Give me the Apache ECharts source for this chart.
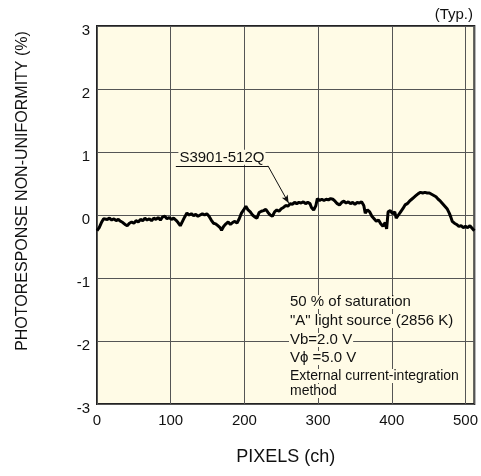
<!DOCTYPE html>
<html>
<head>
<meta charset="utf-8">
<script src="https://cdn.jsdelivr.net/npm/echarts@6/dist/echarts.min.js"></script>
<style>html,body{margin:0;padding:0;background:#fff}#c{width:481px;height:476px}</style>
</head>
<body>
<div id="c"></div>
<script>
var pixels = [0,3,6,9,11,14,17,20,23,26,29,32,35,38,41,44,47,50,53,56,59,62,65,68,71,74,77,80,83,86,89,92,95,98,101,104,107,110,113,116,119,122,125,128,131,134,137,140,143,146,149,152,155,158,161,164,167,169,172,175,178,181,184,187,190,193,196,199,202,205,208,211,214,217,220,223,226,229,232,235,238,241,244,247,250,253,256,259,262,265,268,271,274,277,280,283,286,289,291,294,297,299,302,305,308,311,314,317,320,323,326,329,332,335,338,341,344,347,350,353,356,359,362,364,367,370,373,376,379,382,385,388,391,393,395,398,401,404,406,409,412,415,418,421,424,427,430,433,436,439,442,445,448,451,454,457,460,463,466,469,472,475,478,480,482,485,488,491,494,497,500,503,506,509,512];
var nonUniformity = [-0.25,-0.2,-0.12,-0.06,-0.04,-0.07,-0.05,-0.08,-0.06,-0.09,-0.07,-0.1,-0.12,-0.15,-0.17,-0.13,-0.11,-0.13,-0.09,-0.11,-0.07,-0.09,-0.05,-0.08,-0.06,-0.09,-0.05,-0.07,-0.04,-0.08,-0.03,-0.02,-0.06,-0.04,-0.07,-0.05,-0.08,-0.12,-0.17,-0.1,-0.03,0.03,0.0,0.02,-0.01,0.01,-0.02,0.0,0.02,0.0,0.02,-0.02,-0.08,-0.13,-0.14,-0.17,-0.2,-0.24,-0.18,-0.14,-0.11,-0.15,-0.12,-0.1,-0.13,-0.06,0.03,0.08,0.14,0.08,0.05,0.0,-0.03,-0.05,0.04,0.06,0.07,0.09,0.04,0.0,-0.02,0.05,0.08,0.06,0.1,0.12,0.15,0.14,0.18,0.17,0.2,0.18,0.2,0.19,0.21,0.18,0.2,0.18,0.12,0.08,0.15,0.26,0.23,0.25,0.23,0.25,0.24,0.26,0.25,0.22,0.18,0.16,0.2,0.22,0.19,0.21,0.18,0.2,0.17,0.2,0.19,0.21,0.15,0.03,0.08,0.05,-0.02,-0.06,-0.1,-0.08,-0.14,-0.18,-0.12,-0.22,0.05,0.07,0.02,0.05,-0.05,0.0,0.05,0.1,0.16,0.18,0.22,0.25,0.28,0.31,0.34,0.36,0.35,0.36,0.35,0.35,0.33,0.31,0.29,0.25,0.22,0.18,0.14,0.1,0.03,-0.03,-0.1,-0.13,-0.15,-0.18,-0.17,-0.2,-0.18,-0.2,-0.17,-0.21,-0.25];
var xTicks = [0,100,200,300,400,500];
var yTicks = [-3,-2,-1,0,1,2,3];
var seriesName = 'S3901-512Q';
var leaderPoints = [[107,0.78],[232,0.78],[260,0.19]];
var conditions = ['50 % of saturation','"A" light source (2856 K)','Vb=2.0 V','V\u03d5 =5.0 V','External current-integration','method'];

var FONT = '"Liberation Sans", Arial, Helvetica, sans-serif';
var BG = '#FFFBE6';
var chart = echarts.init(document.getElementById('c'));
var data = pixels.map(function(p,i){return [p, nonUniformity[i]];});

var ctx = document.createElement('canvas').getContext('2d');
var condGraphics = [];
var condY = [302,321,340,358,376,391];
conditions.forEach(function(t,i){
  var f = (i>=4?'14px ':'15px ')+FONT;
  ctx.font = f;
  var w = ctx.measureText(t).width;
  condGraphics.push({
    type:'rect', shape:{x:289, y:condY[i]-7, width:w+2, height:14}, z:99,
    style:{fill:BG}
  });
  condGraphics.push({
    type:'text', x:290, y:condY[i], z:100,
    style:{text:t, fill:'#111', font:f, textVerticalAlign:'middle'}
  });
});
condGraphics.push({type:'text', right:8, top:7, style:{text:'(Typ.)', fill:'#111', font:'15px '+FONT}});
condGraphics.push({type:'text', x:23, y:191, rotation:Math.PI/2, style:{text:'PHOTORESPONSE NON-UNIFORMITY (%)', fill:'#111', font:'16px '+FONT, textAlign:'center', textVerticalAlign:'middle'}});

chart.setOption({
  animation:false,
  backgroundColor:'#fff',
  grid:{left:97, top:26, right:6, bottom:72, show:true, backgroundColor:BG, borderColor:'#222', borderWidth:2},
  xAxis:{
    type:'value', min:0, max:512, interval:100,
    name:'PIXELS (ch)', nameLocation:'middle', nameGap:44,
    nameTextStyle:{fontFamily:FONT, fontSize:18, color:'#111'},
    axisLine:{show:false},
    axisTick:{show:false},
    axisLabel:{fontFamily:FONT, fontSize:15, color:'#111', margin:9,
      customValues:xTicks},
    splitLine:{show:true, lineStyle:{color:'#555', width:1}}
  },
  yAxis:{
    type:'value', min:-3, max:3, interval:1,
    axisLine:{show:false},
    axisTick:{show:false},
    axisLabel:{color:'#111', margin:7, formatter:'{v|{value}}',
      rich:{v:{fontFamily:FONT, fontSize:15, color:'#111', padding:[9,0,0,0]}}},
    splitLine:{show:true, lineStyle:{color:'#555', width:1}}
  },
  series:[
    {
      name:seriesName, type:'line', data:data, showSymbol:false, symbol:'none',
      lineStyle:{color:'#000', width:3}, z:10,
      markLine:{
        silent:true, symbol:['none','none'], z:20,
        lineStyle:{color:'#111', width:1, type:'solid'},
        label:{show:false},
        data:[
          [{coord:leaderPoints[0], label:{show:true, formatter:seriesName, position:'insideMiddleTop', distance:1, fontFamily:FONT, fontSize:15, color:'#111', backgroundColor:BG, padding:[0,1,0,1]}},{coord:leaderPoints[1]}],
          [{coord:leaderPoints[1]},{coord:leaderPoints[2], symbol:'arrow', symbolSize:[5,8]}]
        ]
      }
    }
  ],
  graphic:condGraphics
});
</script>
</body>
</html>
